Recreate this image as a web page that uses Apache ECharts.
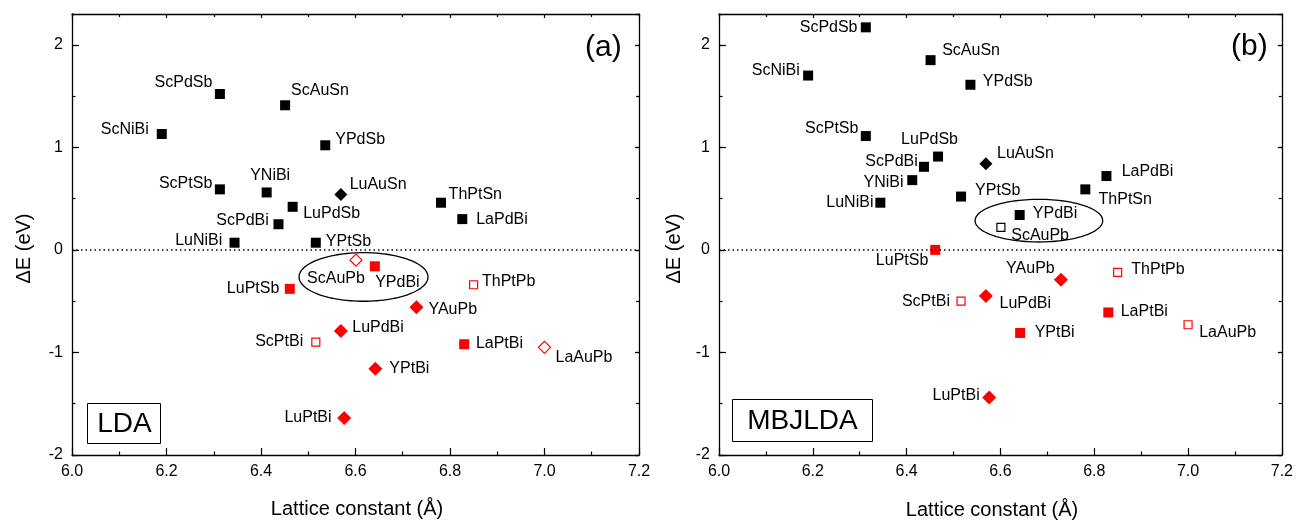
<!DOCTYPE html>
<html><head><meta charset="utf-8">
<script src="https://cdn.jsdelivr.net/npm/echarts@6/dist/echarts.min.js"></script>
<style>html,body{margin:0;padding:0;background:#fff}#c{width:1296px;height:521px}</style>
</head><body><div id="c"></div>
<script>
// ---------------- data ----------------
const compounds = ['ScNiBi','ScPdSb','ScPtSb','ScAuSn','YNiBi','LuNiBi','ScPdBi','LuPtSb','LuPdSb','YPtSb','YPdSb','LuAuSn',
  'ScPtBi','ScAuPb','LuPdBi','LuPtBi','YPdBi','YPtBi','YAuPb','ThPtSn','LaPdBi','LaPtBi','ThPtPb','LaAuPb'];
const latticeConst = [6.19, 6.313, 6.313, 6.451, 6.412, 6.344, 6.437, 6.461, 6.467, 6.516, 6.536, 6.569,
  6.516, 6.601, 6.569, 6.576, 6.641, 6.642, 6.729, 6.781, 6.826, 6.830, 6.850, 7.00];
const dE_LDA = [1.13, 1.52, 0.59, 1.41, 0.56, 0.07, 0.25, -0.38, 0.42, 0.07, 1.02, 0.54,
  -0.90, -0.10, -0.79, -1.64, -0.16, -1.16, -0.56, 0.46, 0.30, -0.92, -0.34, -0.95];
const dE_MBJLDA = [1.70, 2.17, 1.11, 1.85, 0.68, 0.46, 0.81, 0.00, 0.91, 0.52, 1.61, 0.84,
  -0.50, 0.22, -0.45, -1.44, 0.34, -0.81, -0.29, 0.59, 0.72, -0.61, -0.22, -0.73];
// marker kind: b/r = black/red, s/d = square/diamond, o = open
const markerLDA = ['bs','bs','bs','bs','bs','bs','bs','rs','bs','bs','bs','bd',
  'ros','rod','rd','rd','rs','rd','rd','bs','bs','rs','ros','rod'];
const markerMBJLDA = ['bs','bs','bs','bs','bs','bs','bs','rs','bs','bs','bs','bd',
  'ros','bos','rd','rd','bs','rs','rd','bs','bs','rs','ros','ros'];
// ellipse: centre x, centre y, half-width, half-height (data units)
const ellipseLDA = [6.617, -0.264, 0.1364, 0.237];
const ellipseMBJLDA = [6.682, 0.285, 0.136, 0.208];
const panelTags = ['(a)', '(b)'];
const methodNames = ['LDA', 'MBJLDA'];
const xTitle = 'Lattice constant (Å)';
const yTitle = 'ΔE (eV)';

// ---------------- layout (label placement: align, dx, dy in px) ----------------
const labelLayoutLDA = [
  ['right',-13,-4],['right',-7.5,-11.5],['right',-7.6,-5.4],['left',6,-14.5],['center',3.5,-16.7],['right',-12.2,-2.3],
  ['right',-9.7,-4],['right',-10.5,-0.4],['left',10.5,6.6],['left',10,-1.6],['left',10,-6],['left',8.8,-10],
  ['right',-12.6,-0.6],['center',-20,18],['left',11.4,-3.3],['right',-12.6,-0.6],['center',22.5,16.3],['left',14,0],
  ['left',12,2],['left',7.6,-8.3],['left',13.9,0],['left',11.7,-0.7],['left',8.4,-3.6],['left',11,10.5]];
const labelLayoutMBJLDA = [
  ['right',-8.3,-5],['right',-8.3,0],['right',-7.4,-7.4],['left',11.6,-10],['right',-8.7,2.4],['right',-6.9,0.3],
  ['right',-6.2,-5.3],['right',-6.9,10.4],['center',-8.5,-17.4],['left',14,-5.7],['left',12.4,-3],['left',11.1,-10.6],
  ['right',-11.1,0.7],['left',10.3,8],['left',13.6,7.6],['right',-9.5,-2],['left',13.2,-1.3],['left',14.5,0],
  ['right',-6.2,-11],['left',13.2,10.6],['left',15.2,-4],['left',12.4,-0.6],['left',13.6,-2.4],['left',11.1,7.4]];

const FONT = "'Liberation Sans', Arial, Helvetica, sans-serif";
const RED = '#ff0000';
const markerStyles = {
  bs:  {symbol:'rect', size:10, item:{color:'#000', opacity:1}},
  bd:  {symbol:'diamond', size:13, item:{color:'#000', opacity:1}},
  bos: {symbol:'rect', size:8, item:{color:'#fff', borderColor:'#000', borderWidth:1.2, opacity:1}},
  rs:  {symbol:'rect', size:10, item:{color:RED, opacity:1}},
  rd:  {symbol:'diamond', size:14, item:{color:RED, opacity:1}},
  ros: {symbol:'rect', size:8, item:{color:'#fff', borderColor:RED, borderWidth:1.2, opacity:1}},
  rod: {symbol:'diamond', size:12, item:{color:'#fff', borderColor:RED, borderWidth:1.2, opacity:1}}
};

const grids = [
  {left:72, top:14, width:567, height:441},
  {left:719, top:14, width:566, height:441}
];
const axLine = {show:true, onZero:false, lineStyle:{color:'#000', width:1.3}};
const tickLS = {color:'#000', width:1.2};

const xAxes = [], yAxes = [], series = [];
grids.forEach((g, p) => {
  xAxes.push({gridIndex:p, type:'value', min:6, max:7.2, interval:0.2, position:'bottom',
    axisLine:axLine, axisTick:{show:true, inside:true, length:7, lineStyle:tickLS},
    minorTick:{show:true, splitNumber:2, length:3.5, lineStyle:tickLS},
    axisLabel:{show:true, margin:9, fontSize:16, color:'#000', fontFamily:FONT, formatter:v=>v.toFixed(1)},
    splitLine:{show:false}});
  xAxes.push({gridIndex:p, type:'value', min:6, max:7.2, interval:0.2, position:'top',
    axisLine:axLine, axisTick:{show:true, inside:true, length:4, lineStyle:tickLS},
    minorTick:{show:true, splitNumber:2, length:3, lineStyle:tickLS},
    axisLabel:{show:false}, splitLine:{show:false}});
  const yBase = {gridIndex:p, type:'value', min:-2, max:2.3, splitLine:{show:false}};
  yAxes.push(Object.assign({}, yBase, {position:'left', interval:1, axisLine:axLine,
    axisTick:{show:true, inside:true, length:7, lineStyle:tickLS},
    axisLabel:{show:true, margin:9, fontSize:16, color:'#000', fontFamily:FONT, showMaxLabel:false,
      formatter:v=>Math.abs(v-Math.round(v))<1e-6 ? String(Math.round(v)) : ''}}));
  yAxes.push(Object.assign({}, yBase, {position:'left', interval:0.5, axisLine:{show:false},
    axisTick:{show:true, inside:true, length:3.5, lineStyle:tickLS}, axisLabel:{show:false}}));
  yAxes.push(Object.assign({}, yBase, {position:'right', interval:1, axisLine:axLine,
    axisTick:{show:true, inside:true, length:4, lineStyle:tickLS}, axisLabel:{show:false}}));
  yAxes.push(Object.assign({}, yBase, {position:'right', interval:0.5, axisLine:{show:false},
    axisTick:{show:true, inside:true, length:3, lineStyle:tickLS}, axisLabel:{show:false}}));

  const dE = p === 0 ? dE_LDA : dE_MBJLDA;
  const markers = p === 0 ? markerLDA : markerMBJLDA;
  const layouts = p === 0 ? labelLayoutLDA : labelLayoutMBJLDA;
  const ell = p === 0 ? ellipseLDA : ellipseMBJLDA;

  // zero reference line + ellipse
  series.push({type:'custom', xAxisIndex:p*2, yAxisIndex:p*4, silent:true, z:1,
    data:[ell], encode:{x:0, y:1},
    renderItem:(params, api) => {
      const c = api.coord([api.value(0), api.value(1)]);
      const s = api.size([api.value(2), api.value(3)]);
      const pts = [];
      for (let k = 0; k < 120; k++) {
        const t = k / 120 * Math.PI * 2;
        pts.push([c[0] + s[0] * Math.cos(t), c[1] + s[1] * Math.sin(t)]);
      }
      return {type:'polygon', shape:{points:pts}, style:{fill:'none', stroke:'#000', lineWidth:1.3}};
    },
    markLine:{silent:true, symbol:['none','none'], label:{show:false},
      lineStyle:{type:[1.5, 3], color:'#000', width:1.5, opacity:1}, data:[{yAxis:0}]}
  });

  Object.keys(markerStyles).forEach(key => {
    const st = markerStyles[key];
    const data = [];
    compounds.forEach((name, i) => {
      if (markers[i] !== key) return;
      const l = layouts[i];
      data.push({name:name, value:[latticeConst[i], dE[i]],
        label:{align:l[0], verticalAlign:'middle', offset:[l[1], l[2]]}});
    });
    if (!data.length) return;
    series.push({type:'scatter', xAxisIndex:p*2, yAxisIndex:p*4, silent:true, z:3,
      symbol:st.symbol, symbolSize:st.size, itemStyle:st.item, data:data,
      label:{show:true, position:'inside', formatter:'{b}', fontSize:16, color:'#000', fontFamily:FONT,
        textBorderWidth:0, opacity:1},
      emphasis:{disabled:true}});
  });
});

const graphic = [
  {type:'text', left:585, top:33, style:{text:panelTags[0], fontSize:30, fontFamily:FONT, fill:'#000'}},
  {type:'text', left:1231, top:32, style:{text:panelTags[1], fontSize:30, fontFamily:FONT, fill:'#000'}},
  {type:'rect', shape:{x:87.5, y:403.5, width:73, height:40}, style:{fill:'#fff', stroke:'#000', lineWidth:1}},
  {type:'text', x:124.5, y:424, style:{text:methodNames[0], fontSize:28, fontFamily:FONT, fill:'#000', align:'center', verticalAlign:'middle'}},
  {type:'rect', shape:{x:732.5, y:399.5, width:140, height:42}, style:{fill:'#fff', stroke:'#000', lineWidth:1}},
  {type:'text', x:802.5, y:421, style:{text:methodNames[1], fontSize:28, fontFamily:FONT, fill:'#000', align:'center', verticalAlign:'middle'}},
  {type:'text', x:357, y:509, style:{text:xTitle, fontSize:20, fontFamily:FONT, fill:'#000', align:'center', verticalAlign:'middle'}},
  {type:'text', x:992, y:510, style:{text:xTitle, fontSize:20, fontFamily:FONT, fill:'#000', align:'center', verticalAlign:'middle'}},
  {type:'text', x:24, y:248.5, rotation:Math.PI/2, style:{text:yTitle, fontSize:20, fontFamily:FONT, fill:'#000', align:'center', verticalAlign:'middle'}},
  {type:'text', x:674, y:248.5, rotation:Math.PI/2, style:{text:yTitle, fontSize:20, fontFamily:FONT, fill:'#000', align:'center', verticalAlign:'middle'}}
];

const chart = echarts.init(document.getElementById('c'), null, {renderer:'canvas'});
chart.setOption({
  animation:false,
  backgroundColor:'#fff',
  grid:grids,
  xAxis:xAxes,
  yAxis:yAxes,
  series:series,
  graphic:graphic
});
</script>
</body></html>
